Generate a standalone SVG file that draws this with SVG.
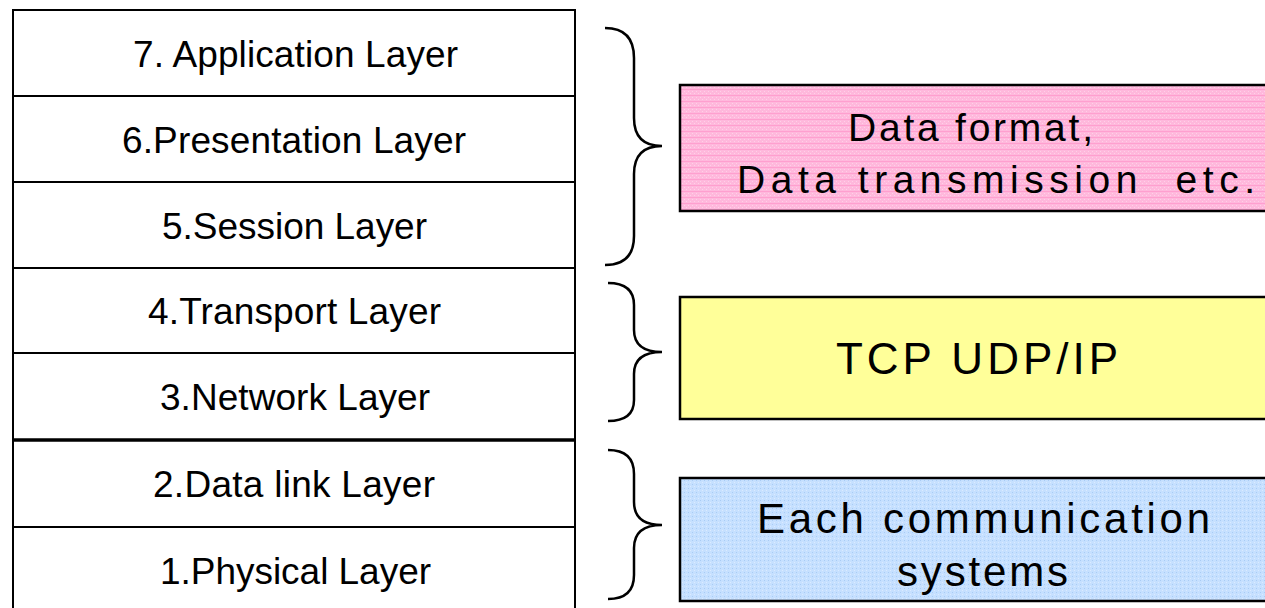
<svg xmlns="http://www.w3.org/2000/svg" width="1265" height="608" viewBox="0 0 1265 608">
<style>
.layer{fill:#fff;stroke:#000;stroke-width:2}
.lt{font-family:"Liberation Sans",Arial,sans-serif;font-size:37px;fill:#000}
.bt{font-family:"Liberation Sans",Arial,sans-serif;fill:#000}
.brace{fill:none;stroke:#000;stroke-width:2.5}
.box{stroke:#000;stroke-width:2.5}
</style>
<defs>
<pattern id="pink" width="4" height="6" patternUnits="userSpaceOnUse">
<rect width="4" height="6" fill="#FFB8DC"/>
<rect width="4" height="1" y="5" fill="#FF9FCF"/>
<rect x="0" y="1" width="1" height="1" fill="#FFD0E8"/>
<rect x="2" y="3" width="1" height="1" fill="#FFD0E8"/>
</pattern>
<pattern id="blue" width="4" height="4" patternUnits="userSpaceOnUse">
<rect width="4" height="4" fill="#C6E0FF"/>
<rect x="0" y="0" width="1" height="1" fill="#A9CCF5"/>
<rect x="2" y="2" width="1" height="1" fill="#DCEBFF"/>
</pattern>
</defs>
<g id="stack">
<g id="l7"><rect class="layer" x="13" y="10" width="562" height="86"/><text class="lt" x="133" y="67" textLength="325" lengthAdjust="spacing">7. Application Layer</text></g>
<g id="l6"><rect class="layer" x="13" y="96" width="562" height="86"/><text class="lt" x="122" y="153" textLength="344" lengthAdjust="spacing">6.Presentation Layer</text></g>
<g id="l5"><rect class="layer" x="13" y="182" width="562" height="86"/><text class="lt" x="162" y="239" textLength="265" lengthAdjust="spacing">5.Session Layer</text></g>
<g id="l4"><rect class="layer" x="13" y="268" width="562" height="85"/><text class="lt" x="148" y="324" textLength="293" lengthAdjust="spacing">4.Transport Layer</text></g>
<g id="l3"><rect class="layer" x="13" y="353" width="562" height="87"/><text class="lt" x="160" y="410" textLength="270" lengthAdjust="spacing">3.Network Layer</text></g>
<g id="l2"><rect class="layer" x="13" y="440" width="562" height="87"/><text class="lt" x="153" y="497" textLength="282" lengthAdjust="spacing">2.Data link Layer</text></g>
<g id="l1"><rect class="layer" x="13" y="527" width="562" height="90"/><text class="lt" x="160" y="584" textLength="271" lengthAdjust="spacing">1.Physical Layer</text></g>
<line x1="13" y1="440" x2="575" y2="440" stroke="#000" stroke-width="3.5"/>
</g>
<g id="connectors">
<path class="brace" d="M605,28 Q634,28 634,58 L634,118 Q634,146 662,146 Q634,146 634,174 L634,236 Q634,265 605,265"/>
<path class="brace" d="M608,283 Q634,283 634,305 L634,330 Q634,352 662,352 Q634,352 634,374 L634,400 Q634,421 608,421"/>
<path class="brace" d="M608,450 Q634,450 634,474 L634,502 Q634,525 662,525 Q634,525 634,548 L634,575 Q634,599 608,599"/>
</g>
<g id="upper">
<rect class="box" x="680" y="85" width="600" height="126" fill="url(#pink)"/>
<text class="bt" font-size="39" x="848" y="141" textLength="245" lengthAdjust="spacing">Data format,</text>
<text class="bt" font-size="39" x="737" y="193" textLength="518" lengthAdjust="spacing">Data transmission&#160; etc.</text>
</g>
<g id="middle">
<rect class="box" x="680" y="297" width="600" height="122" fill="#FFFF99"/>
<text class="bt" font-size="44" x="836" y="374" textLength="282" lengthAdjust="spacing">TCP UDP/IP</text>
</g>
<g id="lower">
<rect class="box" x="680" y="478" width="600" height="123" fill="url(#blue)"/>
<text class="bt" font-size="42" x="757" y="533" textLength="453" lengthAdjust="spacing">Each communication</text>
<text class="bt" font-size="42" x="897" y="586" textLength="171" lengthAdjust="spacing">systems</text>
</g>
</svg>
